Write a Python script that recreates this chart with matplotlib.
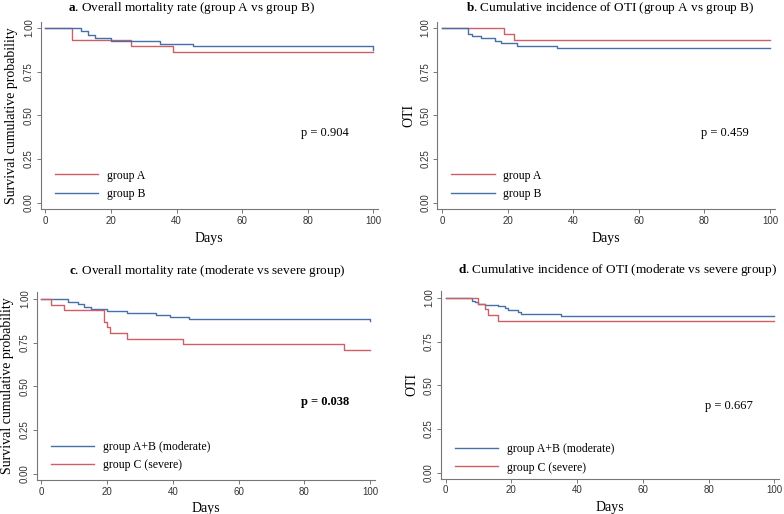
import matplotlib
matplotlib.use("Agg")
import matplotlib.pyplot as plt

plt.rcParams['font.family'] = 'Liberation Serif'
plt.rcParams['mathtext.fontset'] = 'custom'
plt.rcParams['mathtext.rm'] = 'Liberation Serif'
plt.rcParams['mathtext.bf'] = 'Liberation Serif:bold'

RED = '#cf5f67'
BLUE = '#4670a8'

# panel a: overall mortality, group A vs group B
a_days_A = [0, 8, 26, 39, 100]
a_surv_A = [1.0, 0.931, 0.897, 0.862, 0.862]
a_days_B = [0, 11, 13, 15, 20, 35, 45, 100]
a_surv_B = [1.0, 0.983, 0.958, 0.943, 0.926, 0.911, 0.897, 0.876]

# panel b: OTI, group A vs group B
b_days_A = [0, 19, 22, 100]
b_surv_A = [1.0, 0.966, 0.931, 0.931]
b_days_B = [0, 8, 9, 12, 16, 18, 23, 35, 100]
b_surv_B = [1.0, 0.968, 0.956, 0.942, 0.927, 0.912, 0.898, 0.883, 0.883]

# panel c: overall mortality, moderate vs severe
c_days_mod = [0, 8, 11, 13, 15, 20, 26, 35, 39, 45, 100]
c_surv_mod = [1.0, 0.982, 0.971, 0.955, 0.942, 0.932, 0.92, 0.908, 0.898, 0.887, 0.872]
c_days_sev = [0, 3, 7, 19, 20, 21, 26, 43, 92, 100]
c_surv_sev = [1.0, 0.968, 0.935, 0.871, 0.839, 0.806, 0.774, 0.742, 0.71, 0.71]

# panel d: OTI, moderate vs severe
d_days_mod = [0, 8, 9, 10, 12, 16, 18, 19, 22, 23, 35, 100]
d_surv_mod = [1.0, 0.985, 0.976, 0.968, 0.962, 0.952, 0.943, 0.933, 0.922, 0.910, 0.899, 0.899]
d_days_sev = [0, 10, 12, 13, 16, 100]
d_surv_sev = [1.0, 0.968, 0.935, 0.903, 0.871, 0.871]

yticks = [0, 0.25, 0.5, 0.75, 1.0]
ytick_labels = ['0.00', '0.25', '0.50', '0.75', '1.00']
xticks = [0, 20, 40, 60, 80, 100]

fig = plt.figure(figsize=(7.84, 5.14), dpi=100)


def setup(ax, ylabel, ylim):
    ax.set_xlim(-1.4, 101.4)
    ax.set_ylim(*ylim)
    for s in ['top', 'right']:
        ax.spines[s].set_visible(False)
    for s in ['left', 'bottom']:
        ax.spines[s].set_color('#777777')
        ax.spines[s].set_linewidth(0.8)
    ax.set_xticks(xticks)
    ax.set_yticks(yticks)
    ax.set_yticklabels(ytick_labels, rotation=90, va='center')
    ax.tick_params(length=3, width=0.7, color='#777777', labelsize=7,
                   labelcolor='#333333', pad=2)
    for lab in ax.get_xticklabels() + ax.get_yticklabels():
        lab.set_family('Liberation Sans')
    ax.set_xlabel('Days', fontsize=10, labelpad=4)
    ax.set_ylabel(ylabel, fontsize=10, labelpad=4)


def legend(ax, lines, labels, ypos):
    ax.legend(lines, labels, loc='lower left', frameon=False, fontsize=8.5,
              handlelength=3.65, handletextpad=0.75, labelspacing=0.55,
              bbox_to_anchor=(0.01, ypos))


# a
ax = fig.add_axes([0.052, 0.593, 0.430, 0.364])
setup(ax, 'Survival cumulative probability', (-0.038, 1.034))
la, = ax.step(a_days_A, a_surv_A, where='post', color=RED, lw=1)
lb, = ax.step(a_days_B, a_surv_B, where='post', color=BLUE, lw=1)
legend(ax, [la, lb], ['group A', 'group B'], -0.008)
ax.text(78, 0.40, 'p = 0.904', fontsize=9, va='center')
fig.text(0.244, 0.984, r'$\mathbf{a}$. Overall mortality rate (group A vs group B)',
         ha='center', va='center', fontsize=9.5)

# b
ax = fig.add_axes([0.558, 0.593, 0.430, 0.364])
setup(ax, 'OTI', (-0.038, 1.034))
la, = ax.step(b_days_A, b_surv_A, where='post', color=RED, lw=1)
lb, = ax.step(b_days_B, b_surv_B, where='post', color=BLUE, lw=1)
legend(ax, [la, lb], ['group A', 'group B'], -0.008)
ax.text(79, 0.40, 'p = 0.459', fontsize=9, va='center')
fig.text(0.779, 0.984, r'$\mathbf{b}$. Cumulative incidence of OTI (group A vs group B)',
         ha='center', va='center', fontsize=9.5)

# c
ax = fig.add_axes([0.047, 0.067, 0.431, 0.364])
setup(ax, 'Survival cumulative probability', (-0.034, 1.038))
lm, = ax.step(c_days_mod, c_surv_mod, where='post', color=BLUE, lw=1)
ls, = ax.step(c_days_sev, c_surv_sev, where='post', color=RED, lw=1)
legend(ax, [lm, ls], ['group A+B (moderate)', 'group C (severe)'], -0.013)
ax.text(79, 0.41, 'p = 0.038', fontsize=9, va='center', fontweight='bold')
fig.text(0.265, 0.473, r'$\mathbf{c}$. Overall mortality rate (moderate vs severe group)',
         ha='center', va='center', fontsize=9.5)

# d
ax = fig.add_axes([0.5625, 0.069, 0.431, 0.364])
setup(ax, 'OTI', (-0.034, 1.038))
lm, = ax.step(d_days_mod, d_surv_mod, where='post', color=BLUE, lw=1)
ls, = ax.step(d_days_sev, d_surv_sev, where='post', color=RED, lw=1)
legend(ax, [lm, ls], ['group A+B (moderate)', 'group C (severe)'], -0.03)
ax.text(79, 0.38, 'p = 0.667', fontsize=9, va='center')
fig.text(0.788, 0.475, r'$\mathbf{d}$. Cumulative incidence of OTI (moderate vs severe group)',
         ha='center', va='center', fontsize=9.5)

fig.savefig('out.png', dpi=100)
